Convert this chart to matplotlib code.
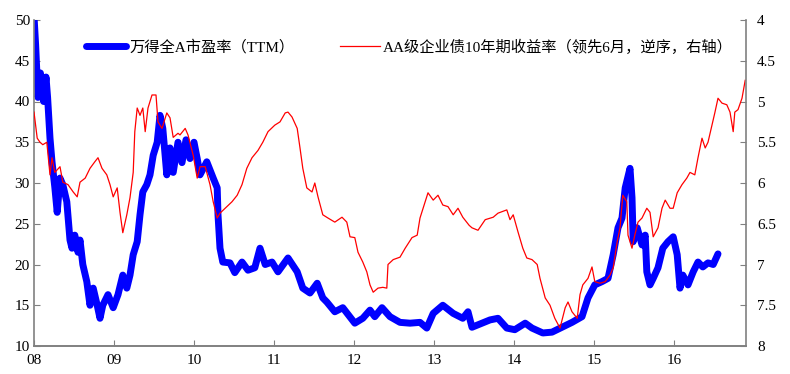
import matplotlib
matplotlib.use("Agg")
import matplotlib.pyplot as plt

plt.rcParams['font.family'] = ['Liberation Serif', 'Noto Sans CJK SC']

# 万得全A市盈率 (TTM), x = decimal year
pe_year = [2008.0, 2008.02, 2008.05, 2008.08, 2008.12, 2008.15, 2008.17, 2008.2, 2008.225,
           2008.26, 2008.29, 2008.325, 2008.36, 2008.41, 2008.45, 2008.475, 2008.51, 2008.55,
           2008.575, 2008.61, 2008.66, 2008.7, 2008.74, 2008.79, 2008.825, 2008.86, 2008.925,
           2008.99, 2009.05, 2009.11, 2009.16, 2009.2, 2009.24, 2009.29, 2009.325, 2009.36,
           2009.41, 2009.45, 2009.49, 2009.54, 2009.575, 2009.61, 2009.66, 2009.7, 2009.74,
           2009.8, 2009.85, 2009.9, 2009.95, 2010.0, 2010.04, 2010.075, 2010.16, 2010.24,
           2010.29, 2010.3, 2010.325, 2010.36, 2010.45, 2010.51, 2010.6, 2010.675, 2010.76,
           2010.825, 2010.89, 2010.975, 2011.05, 2011.175, 2011.29, 2011.36, 2011.45, 2011.54,
           2011.61, 2011.66, 2011.76, 2011.86, 2012.01, 2012.11, 2012.2, 2012.26, 2012.35,
           2012.45, 2012.575, 2012.7, 2012.825, 2012.91, 2012.99, 2013.11, 2013.24, 2013.36,
           2013.425, 2013.475, 2013.6, 2013.7, 2013.8, 2013.91, 2014.01, 2014.14, 2014.225,
           2014.36, 2014.475, 2014.6, 2014.725, 2014.85, 2014.925, 2015.01, 2015.1, 2015.175,
           2015.24, 2015.3, 2015.35, 2015.39, 2015.45, 2015.475, 2015.49, 2015.54, 2015.6,
           2015.64, 2015.66, 2015.7, 2015.74, 2015.8, 2015.86, 2015.925, 2015.99, 2016.04,
           2016.075, 2016.11, 2016.175, 2016.24, 2016.3, 2016.36, 2016.425, 2016.49, 2016.55]
pe_val = [50.5, 47, 40.5, 43.5, 40.0, 43.0, 40.5, 35.5, 32.6,
          29.5, 26.4, 30.6, 29.8, 27.7, 23.0, 22.0, 23.6, 21.5,
          23.0, 20.0, 17.9, 15.0, 17.1, 15.0, 13.4, 15.0, 16.3,
          14.7, 16.3, 18.7, 17.1, 18.7, 21.2, 22.8, 26.1, 28.9,
          29.8, 31.0, 33.4, 35.0, 38.3, 36.7, 31.0, 34.3, 31.3,
          35.0, 32.5, 35.3, 33.0, 35.0, 33.0, 31.0, 32.6, 30.6,
          29.4, 26.1, 22.0, 20.3, 20.2, 19.0, 20.3, 19.3, 19.6,
          22.0, 20.0, 20.3, 19.1, 20.8, 19.1, 17.1, 16.5, 17.7,
          15.9, 15.4, 14.2, 14.7, 12.8, 13.4, 14.4, 13.6, 14.7,
          13.6, 12.9, 12.8, 12.9, 12.2, 14.0, 15.0, 14.0, 13.4,
          14.2, 12.3, 12.8, 13.2, 13.4, 12.2, 12.0, 12.8, 12.2,
          11.6, 11.7, 12.3, 12.9, 13.6, 15.9, 17.5, 17.9, 18.3,
          21.2, 24.5, 25.7, 29.4, 31.8, 28.2, 22.8, 24.5, 22.4,
          23.6, 19.1, 17.5, 18.3, 19.6, 22.0, 22.8, 23.4, 21.2,
          17.1, 18.7, 17.5, 19.1, 20.3, 19.7, 20.2, 20.0, 21.3]

# AA级企业债10年期收益率 (领先6月, 逆序, 右轴)
bond_year = [2008.0, 2008.04, 2008.075, 2008.11, 2008.16, 2008.2, 2008.225, 2008.26, 2008.325,
             2008.36, 2008.425, 2008.49, 2008.54, 2008.575, 2008.64, 2008.7, 2008.76, 2008.8,
             2008.85, 2008.91, 2008.95, 2008.99, 2009.04, 2009.075, 2009.11, 2009.16, 2009.2,
             2009.24, 2009.26, 2009.29, 2009.325, 2009.36, 2009.39, 2009.425, 2009.475, 2009.525,
             2009.55, 2009.6, 2009.66, 2009.7, 2009.74, 2009.8, 2009.825, 2009.89, 2009.925,
             2009.99, 2010.04, 2010.075, 2010.14, 2010.2, 2010.24, 2010.29, 2010.325, 2010.39,
             2010.475, 2010.54, 2010.6, 2010.66, 2010.725, 2010.8, 2010.86, 2010.925, 2011.01,
             2011.075, 2011.14, 2011.175, 2011.225, 2011.29, 2011.325, 2011.36, 2011.41, 2011.475,
             2011.51, 2011.55, 2011.61, 2011.675, 2011.76, 2011.85, 2011.91, 2011.95, 2012.01,
             2012.05, 2012.11, 2012.16, 2012.2, 2012.24, 2012.3, 2012.36, 2012.41, 2012.425,
             2012.49, 2012.575, 2012.64, 2012.725, 2012.79, 2012.825, 2012.89, 2012.925, 2012.99,
             2013.05, 2013.11, 2013.175, 2013.24, 2013.3, 2013.36, 2013.44, 2013.475, 2013.55,
             2013.64, 2013.74, 2013.8, 2013.91, 2013.95, 2013.99, 2014.05, 2014.11, 2014.16,
             2014.225, 2014.29, 2014.325, 2014.39, 2014.45, 2014.51, 2014.575, 2014.64, 2014.675,
             2014.725, 2014.79, 2014.825, 2014.86, 2014.925, 2014.975, 2015.01, 2015.075, 2015.14,
             2015.2, 2015.24, 2015.29, 2015.325, 2015.36, 2015.41, 2015.425, 2015.475, 2015.51,
             2015.55, 2015.6, 2015.66, 2015.7, 2015.74, 2015.8, 2015.85, 2015.89, 2015.95,
             2015.99, 2016.04, 2016.1, 2016.16, 2016.2, 2016.26, 2016.3, 2016.35, 2016.39,
             2016.425, 2016.475, 2016.51, 2016.55, 2016.6, 2016.66, 2016.7, 2016.74, 2016.76,
             2016.8, 2016.85, 2016.89]
bond_val = [5.13, 5.45, 5.5, 5.53, 5.5, 5.9, 5.69, 5.87, 5.8,
            5.99, 6.02, 6.11, 6.17, 5.99, 5.94, 5.82, 5.74, 5.69,
            5.82, 5.9, 6.02, 6.17, 6.06, 6.36, 6.61, 6.39, 6.18,
            5.87, 5.37, 5.08, 5.17, 5.08, 5.37, 5.08, 4.92, 4.92,
            5.25, 5.33, 5.14, 5.2, 5.44, 5.39, 5.41, 5.33, 5.41,
            5.66, 5.94, 5.8, 5.8, 6.02, 6.23, 6.43, 6.37, 6.31,
            6.23, 6.15, 6.02, 5.82, 5.69, 5.6, 5.5, 5.37, 5.29,
            5.25, 5.14, 5.13, 5.19, 5.33, 5.57, 5.82, 6.06, 6.11,
            6.0, 6.17, 6.39, 6.43, 6.48, 6.42, 6.48, 6.66, 6.67,
            6.85, 6.97, 7.09, 7.25, 7.34, 7.29, 7.28, 7.29, 7.0,
            6.94, 6.91, 6.8, 6.67, 6.64, 6.43, 6.23, 6.12, 6.21,
            6.15, 6.27, 6.29, 6.39, 6.31, 6.42, 6.52, 6.55, 6.58,
            6.45, 6.42, 6.37, 6.33, 6.45, 6.39, 6.6, 6.8, 6.92,
            6.94, 7.0, 7.17, 7.41, 7.5, 7.66, 7.78, 7.53, 7.46,
            7.58, 7.66, 7.37, 7.25, 7.17, 7.03, 7.21, 7.23, 7.21,
            7.13, 7.04, 6.72, 6.55, 6.15, 6.23, 6.64, 6.8, 6.64,
            6.48, 6.43, 6.31, 6.36, 6.66, 6.55, 6.31, 6.21, 6.31,
            6.31, 6.12, 6.02, 5.94, 5.87, 5.9, 5.69, 5.45, 5.57,
            5.5, 5.29, 5.14, 4.96, 5.02, 5.04, 5.13, 5.37, 5.13,
            5.1, 4.96, 4.74]

years = list(range(2008, 2017))
year_labels = ['08', '09', '10', '11', '12', '13', '14', '15', '16']

fig = plt.figure(figsize=(7.9, 3.74), dpi=100)
ax = fig.add_axes([34 / 790, 28 / 374, 712 / 790, 326 / 374])
ax2 = ax.twinx()

l1, = ax.plot(pe_year, pe_val, color='#0000FF', lw=5, solid_capstyle='round',
              label='万得全A市盈率（TTM）')
l2, = ax2.plot(bond_year, bond_val, color='#FF0000', lw=0.9,
               label='AA级企业债10年期收益率（领先6月，逆序，右轴）')

ax.set_xlim(2008, 2016.9)
ax.set_ylim(10, 50)
ax2.set_ylim(8, 4)
ax.set_yticks([10, 15, 20, 25, 30, 35, 40, 45, 50])
ax2.set_yticks([4, 4.5, 5, 5.5, 6, 6.5, 7, 7.5, 8])
ax2.set_yticklabels(['4', '4.5', '5', '5.5', '6', '6.5', '7', '7.5', '8'])
ax.set_xticks(years)
ax.set_xticklabels(year_labels)

for a in (ax, ax2):
    a.spines['top'].set_visible(False)
    for s in ('left', 'right', 'bottom'):
        a.spines[s].set_color('#808080')
        a.spines[s].set_linewidth(1.2)
    a.tick_params(direction='in', length=4, color='#808080', labelsize=11, pad=4)
ax2.spines['left'].set_visible(False)
ax.spines['right'].set_visible(False)
ax.tick_params(axis='y', pad=3)
ax2.tick_params(axis='y', pad=8)
ax.tick_params(axis='x', pad=6)

ax.legend(handles=[l1, l2], loc='center left', bbox_to_anchor=(0.065, 0.917),
          ncol=2, frameon=False, fontsize=11, handlelength=2.6, handletextpad=0.2,
          columnspacing=3.0, borderaxespad=0)

fig.savefig('out.png', dpi=100)
